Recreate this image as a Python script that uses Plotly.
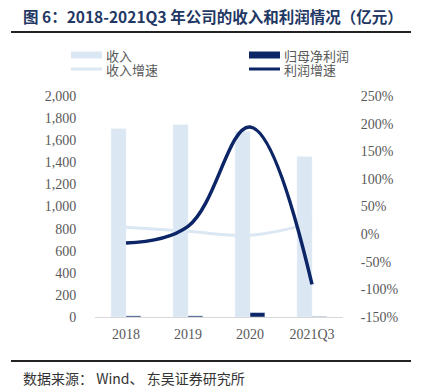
import plotly.graph_objects as go

categories = ["2018", "2019", "2020", "2021Q3"]
revenue = [1703, 1739, 1680, 1450]
net_profit = [10, 10, 40, 3]
revenue_growth = [12.5, 5, -2, 20]
profit_growth = [-16, 14, 194, -91]

left_ticks = list(range(0, 2001, 200))
right_ticks = list(range(-150, 251, 50))
right_labels = [f"{v}%" for v in right_ticks]

LIGHT = "#DCE7F4"
NAVY = "#0B2566"
GRAY = "#595959"
CJK = "Noto Sans CJK SC"
SERIF = "Liberation Serif"

OFF = 8  # page body margin
W, H = 422 - OFF, 389 - OFF
PX0, PX1, PY0, PY1 = 95, 343, 96, 317  # plot area in page pixels
L, R, T, B = PX0 - OFF, 422 - PX1, PY0 - OFF, 389 - PY1


def px_x(px):
    return (px - PX0) / (PX1 - PX0)


def px_y(py):
    return (PY1 - py) / (PY1 - PY0)


fig = go.Figure()
fig.add_bar(x=categories, y=revenue, name="收入", marker_color=LIGHT, showlegend=False, yaxis="y")
fig.add_bar(x=categories, y=net_profit, name="归母净利润", marker_color=NAVY, showlegend=False, yaxis="y")
fig.add_scatter(x=categories, y=revenue_growth, name="收入增速", mode="lines",
                line=dict(color=LIGHT, width=3, shape="spline", smoothing=1), yaxis="y2", showlegend=False)
fig.add_scatter(x=categories, y=profit_growth, name="利润增速", mode="lines",
                line=dict(color=NAVY, width=3.5, shape="spline", smoothing=1.1), yaxis="y2", showlegend=False)

# manual legend
legend_items = [
    ("收入", LIGHT, 7, 71, 55),
    ("归母净利润", NAVY, 7, 249, 55),
    ("收入增速", LIGHT, 3, 71, 69),
    ("利润增速", NAVY, 3, 249, 69),
]
shapes = [
    dict(type="line", xref="paper", yref="paper", x0=px_x(11), x1=px_x(411),
         y0=px_y(32), y1=px_y(32), line=dict(color="#222222", width=2)),
    dict(type="line", xref="paper", yref="paper", x0=px_x(11), x1=px_x(411),
         y0=px_y(361), y1=px_y(361), line=dict(color="#222222", width=2)),
]
annotations = [
    dict(text="<b>图 6：2018-2021Q3 年公司的收入和利润情况（亿元）</b>", xref="paper", yref="paper",
         x=px_x(21), y=px_y(16), xanchor="left", yanchor="middle", showarrow=False,
         font=dict(family=CJK, size=15.5, color="#1F3864")),
    dict(text="数据来源： Wind、 东吴证券研究所", xref="paper", yref="paper",
         x=px_x(21), y=px_y(378), xanchor="left", yanchor="middle", showarrow=False,
         font=dict(family=CJK, size=14, color="#333333")),
]
for name, col, w, sx, sy in legend_items:
    shapes.append(dict(type="line", xref="paper", yref="paper", x0=px_x(sx), x1=px_x(sx + 31),
                       y0=px_y(sy), y1=px_y(sy), line=dict(color=col, width=w)))
    annotations.append(dict(text=name, xref="paper", yref="paper", x=px_x(sx + 33), y=px_y(sy),
                            xanchor="left", yanchor="middle", showarrow=False,
                            font=dict(family=CJK, size=13, color=GRAY)))

tickfont = dict(family=SERIF, size=14, color=GRAY)
fig.update_layout(
    width=W, height=H,
    margin=dict(l=L, r=R, t=T, b=B, autoexpand=False),
    paper_bgcolor="white", plot_bgcolor="white",
    showlegend=False,
    barmode="group", bargap=0.52, bargroupgap=0,
    xaxis=dict(type="category", showline=True, linecolor="#D9D9D9", linewidth=1,
               ticks="outside", ticklen=4, tickcolor="rgba(0,0,0,0)", tickfont=tickfont,
               showgrid=False, tickangle=0, automargin=False),
    yaxis=dict(range=[0, 2000], tickvals=left_ticks, tickformat=",", showgrid=False,
               zeroline=False, showline=False, tickfont=tickfont,
               ticks="outside", ticklen=15, tickcolor="rgba(0,0,0,0)", automargin=False),
    yaxis2=dict(range=[-150, 250], tickvals=right_ticks, ticktext=right_labels,
                overlaying="y", side="right", showgrid=False, zeroline=False, showline=False,
                tickfont=tickfont,
                ticks="outside", ticklen=14, tickcolor="rgba(0,0,0,0)", automargin=False),
    shapes=shapes,
    annotations=annotations,
)

fig.write_html("out.html")
